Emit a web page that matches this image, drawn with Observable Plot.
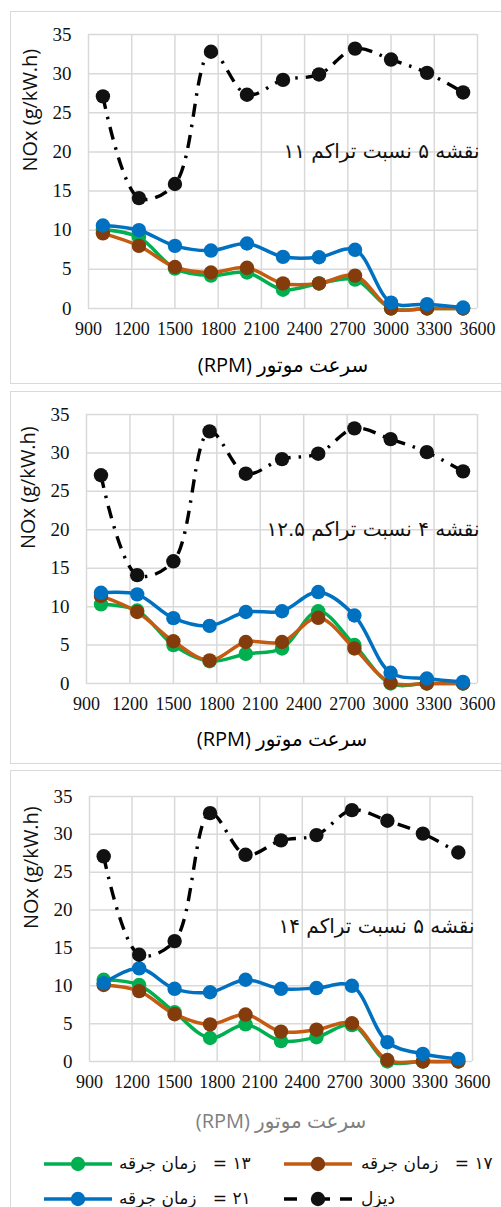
<!DOCTYPE html>
<html>
<head>
<meta charset="utf-8">
<script src="https://cdn.jsdelivr.net/npm/d3@7"></script>
<script src="https://cdn.jsdelivr.net/npm/@observablehq/plot@0.6"></script>
<style>
  html, body { margin: 0; padding: 0; background: #fff; width: 501px; height: 1207px; overflow: hidden; }
  .panel { position: absolute; left: 10px; width: 500px; border: 1.5px solid #d9d9d9; box-sizing: border-box; background: #fff; }
  .panel svg { position: absolute; left: 0; top: 0; overflow: visible; }
  .leg { position: absolute; font-family: "DejaVu Sans", "Open Sans", sans-serif; font-size: 17px; color: #111; white-space: pre; direction: rtl; line-height: 20px; }
  .sw { position: absolute; }
</style>
</head>
<body>
<div id="p1" class="panel" style="top:11px;height:373px"></div>
<div id="p2" class="panel" style="top:391px;height:373px"></div>
<div id="p3" class="panel" style="top:770px;height:460px"></div>
<script>
// ---- data ----
const rpm = [1000, 1250, 1500, 1750, 2000, 2250, 2500, 2750, 3000, 3250, 3500];
const xTicks = [900, 1200, 1500, 1800, 2100, 2400, 2700, 3000, 3300, 3600];
const yTicks = [0, 5, 10, 15, 20, 25, 30, 35];

const diesel = [27.1, 14.1, 15.9, 32.8, 27.3, 29.2, 29.9, 33.2, 31.8, 30.1, 27.6];

// compression ratio 11
const cr11_t13 = [10.1, 9.1, 5.1, 4.2, 4.6, 2.4, 3.2, 3.7, 0, 0, 0];
const cr11_t17 = [9.6, 8.0, 5.3, 4.6, 5.2, 3.2, 3.2, 4.2, 0, 0, 0];
const cr11_t21 = [10.6, 10.0, 8.0, 7.4, 8.3, 6.6, 6.55, 7.5, 0.75, 0.55, 0.13];
// compression ratio 12.5
const cr125_t13 = [10.3, 9.5, 5.0, 2.9, 3.85, 4.55, 9.4, 5.0, 0, 0, 0];
const cr125_t17 = [11.4, 9.3, 5.5, 3.0, 5.4, 5.4, 8.55, 4.55, 0.1, 0, 0];
const cr125_t21 = [11.8, 11.6, 8.5, 7.5, 9.3, 9.4, 11.9, 8.85, 1.4, 0.65, 0.2];
// compression ratio 14
const cr14_t13 = [10.8, 10.1, 6.5, 3.1, 4.9, 2.7, 3.2, 4.8, 0, 0, 0];
const cr14_t17 = [10.1, 9.3, 6.25, 4.9, 6.2, 3.95, 4.2, 5.05, 0.2, 0, 0];
const cr14_t21 = [10.35, 12.3, 9.6, 9.15, 10.8, 9.6, 9.7, 10.0, 2.55, 1.0, 0.35];

const panelTitles = ["نقشه ۵ نسبت تراکم ۱۱", "نقشه ۴ نسبت تراکم ۱۲.۵", "نقشه ۵ نسبت تراکم ۱۴"];
const titleY = [20, 20, 17.8];
const seriesNames = ["۱۳ = زمان جرقه", "۱۷ = زمان جرقه", "۲۱ = زمان جرقه", "دیزل"];
const seriesLine = ["#00B050", "#C55A11", "#0070C0", "#000000"];
const seriesDot = ["#00B050", "#843C0C", "#0070C0", "#111111"];
const xTitle = "سرعت موتور (RPM)";
const yTitle = "NOx (g/kW.h)";

const panels = [
  {id: "p1", series: [cr11_t13, cr11_t17, cr11_t21, diesel], h: 373, mt: 22, mb: 77, ml: 77, mr: 25, xdy: 63, xTitleColor: "#000"},
  {id: "p2", series: [cr125_t13, cr125_t17, cr125_t21, diesel], h: 373, mt: 22, mb: 82, ml: 75, mr: 25, xdy: 62, xTitleColor: "#000"},
  {id: "p3", series: [cr14_t13, cr14_t17, cr14_t21, diesel], h: 371, mt: 25, mb: 81, ml: 78, mr: 30, xdy: 66, xTitleColor: "#808080"}
];

panels.forEach((p, pi) => {
  const marks = [
    Plot.gridX(xTicks, {stroke: "#d9d9d9", strokeOpacity: 1, strokeWidth: 1.5}),
    Plot.gridY(yTicks, {stroke: "#d9d9d9", strokeOpacity: 1, strokeWidth: 1.5}),
    Plot.axisX(xTicks, {label: null, tickSize: 0, tickPadding: 14, tickFormat: d => String(d), fontSize: 18, fontFamily: "Liberation Serif", fill: "#111"}),
    Plot.axisY(yTicks, {label: null, tickSize: 0, tickPadding: 17, tickFormat: d => String(d), fontSize: 19, fontFamily: "Liberation Serif", fill: "#111"})
  ];
  p.series.forEach((vals, si) => {
    const rows = rpm.map((r, i) => ({rpm: r, v: vals[i]}));
    if (si === 3) {
      marks.push(Plot.line(rows, {x: "rpm", y: "v", stroke: seriesLine[si], strokeWidth: 3.4, strokeDasharray: "13,8,2.5,8", strokeLinecap: "butt", curve: "catmull-rom"}));
    } else {
      marks.push(Plot.line(rows, {x: "rpm", y: "v", stroke: seriesLine[si], strokeWidth: 3.5, curve: "catmull-rom"}));
    }
    marks.push(Plot.dot(rows, {x: "rpm", y: "v", r: 7.2, fill: seriesDot[si], stroke: "none"}));
  });
  marks.push(Plot.text([panelTitles[pi]], {frameAnchor: "right", y: [titleY[pi]], text: d => d, textAnchor: "end", dx: 2, fontSize: 20, fontFamily: "DejaVu Sans", fill: "#111"}));
  marks.push(Plot.text([yTitle], {frameAnchor: "left", text: d => d, rotate: -90, dx: -58, fontSize: 20, fontFamily: "Open Sans", fill: "#111"}));
  marks.push(Plot.text([xTitle], {frameAnchor: "bottom", text: d => d, dy: p.xdy, fontSize: 20, fontFamily: "Open Sans, DejaVu Sans", fill: p.xTitleColor}));

  const svg = Plot.plot({
    width: 491, height: p.h,
    marginTop: p.mt, marginBottom: p.mb, marginLeft: p.ml, marginRight: p.mr,
    style: {background: "transparent", fontSize: "18px", fontFamily: "Liberation Serif", overflow: "visible"},
    x: {domain: [900, 3600]},
    y: {domain: [0, 35]},
    marks
  });
  svg.querySelectorAll("text").forEach(t => {
    if (t.textContent.includes("RPM")) { t.setAttribute("direction", "rtl"); t.style.direction = "rtl"; t.style.unicodeBidi = "embed"; }
  });
  document.getElementById(p.id).appendChild(svg);
});

// ---- legend (inside panel 3) ----
const p3 = document.getElementById("p3");
const legItems = [
  {si: 0, sx: 33, tx: 108, y: 393},
  {si: 1, sx: 273, tx: 350, y: 393},
  {si: 2, sx: 33, tx: 108, y: 428},
  {si: 3, sx: 273, tx: 350, y: 428}
];
legItems.forEach(it => {
  const ns = "http://www.w3.org/2000/svg";
  const s = document.createElementNS(ns, "svg");
  s.setAttribute("width", 70); s.setAttribute("height", 20);
  s.setAttribute("class", "sw");
  s.style.left = it.sx + "px"; s.style.top = (it.y - 10) + "px";
  const ln = document.createElementNS(ns, "line");
  ln.setAttribute("x1", 0); ln.setAttribute("x2", 68); ln.setAttribute("y1", 10); ln.setAttribute("y2", 10);
  ln.setAttribute("stroke", seriesLine[it.si]); ln.setAttribute("stroke-width", 3.5);
  if (it.si === 3) ln.setAttribute("stroke-dasharray", "13,10,0,10,13,10");
  s.appendChild(ln);
  const c = document.createElementNS(ns, "circle");
  c.setAttribute("cx", 34); c.setAttribute("cy", 10); c.setAttribute("r", 7.2);
  c.setAttribute("fill", seriesDot[it.si]);
  s.appendChild(c);
  p3.appendChild(s);
  const d = document.createElement("div");
  d.className = "leg";
  d.textContent = seriesNames[it.si].replace(" = ", " =   ");
  d.style.left = it.tx + "px";
  d.style.top = (it.y - 11) + "px";
  p3.appendChild(d);
});
</script>
</body>
</html>
